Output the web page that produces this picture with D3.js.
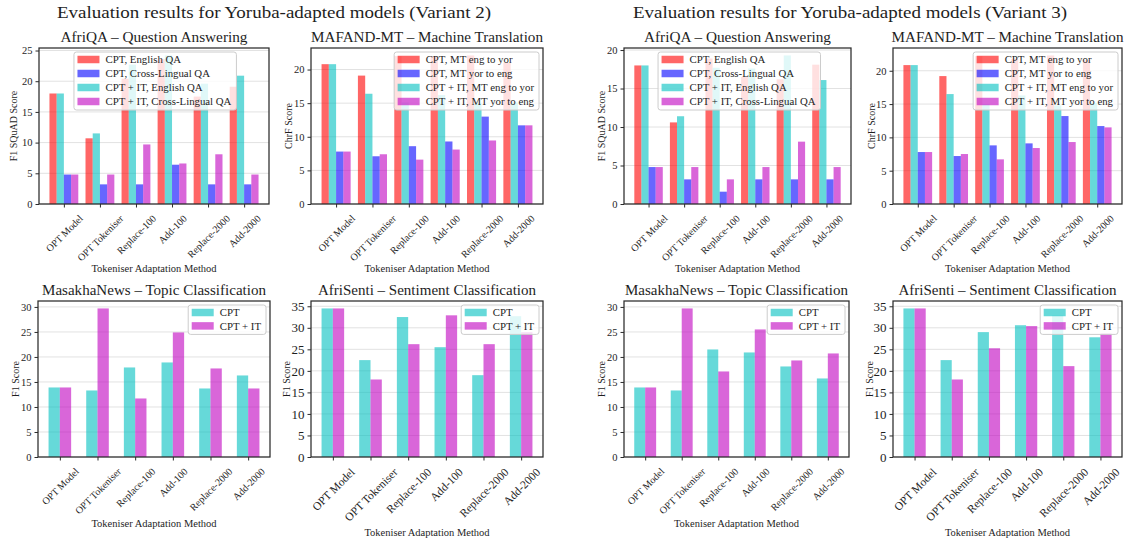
<!DOCTYPE html>
<html>
<head>
<meta charset="utf-8">
<script src="https://cdn.jsdelivr.net/npm/d3@7"></script>
<style>
  html, body { margin: 0; padding: 0; background: #fff; }
  svg { display: block; font-family: "Liberation Serif", "Times New Roman", serif; }
</style>
</head>
<body>
<svg id="chart" width="1133" height="541"></svg>
<script>
// ---- categories ----
const methods = ["OPT Model", "OPT Tokeniser", "Replace-100", "Add-100", "Replace-2000", "Add-2000"];

// ---- legend labels ----
const qaLabels = ["CPT, English QA", "CPT, Cross-Lingual QA", "CPT + IT, English QA", "CPT + IT, Cross-Lingual QA"];
const mtLabels = ["CPT, MT eng to yor", "CPT, MT yor to eng", "CPT + IT, MT eng to yor", "CPT + IT, MT yor to eng"];
const clsLabels = ["CPT", "CPT + IT"];

// ---- Variant 2 scores ----
const qaV2EngCpt = [18.0, 10.7, 20.4, 23.6, 17.5, 19.1];
const qaV2XlCpt  = [4.8, 3.2, 3.2, 6.4, 3.2, 3.2];
const qaV2EngIt  = [18.0, 11.5, 22.7, 24.2, 19.6, 20.9];
const qaV2XlIt   = [4.8, 4.8, 9.7, 6.6, 8.1, 4.8];

const mtV2EngYorCpt = [20.8, 19.1, 22.0, 22.0, 22.1, 21.0];
const mtV2YorEngCpt = [7.8, 7.1, 8.6, 9.3, 13.0, 11.7];
const mtV2EngYorIt  = [20.8, 16.4, 15.1, 16.2, 15.0, 15.1];
const mtV2YorEngIt  = [7.8, 7.4, 6.6, 8.1, 9.45, 11.7];

const newsV2Cpt = [13.9, 13.3, 17.9, 18.9, 13.7, 16.3];
const newsV2It  = [13.9, 29.7, 11.7, 24.9, 17.7, 13.7];
const sentiV2Cpt = [34.5, 22.5, 32.5, 25.5, 19.0, 32.7];
const sentiV2It  = [34.5, 18.0, 26.2, 32.9, 26.2, 29.0];

// ---- Variant 3 scores ----
const qaV3EngCpt = [18.0, 10.6, 18.9, 16.5, 16.2, 18.1];
const qaV3XlCpt  = [4.8, 3.2, 1.6, 3.2, 3.2, 3.2];
const qaV3EngIt  = [18.0, 11.4, 17.7, 17.6, 19.3, 16.1];
const qaV3XlIt   = [4.8, 4.8, 3.2, 4.8, 8.1, 4.8];

const mtV3EngYorCpt = [20.85, 19.2, 22.2, 21.8, 22.3, 21.6];
const mtV3YorEngCpt = [7.8, 7.2, 8.8, 9.1, 13.2, 11.7];
const mtV3EngYorIt  = [20.85, 16.5, 15.0, 16.3, 14.8, 15.2];
const mtV3YorEngIt  = [7.8, 7.5, 6.7, 8.4, 9.3, 11.5];

const newsV3Cpt = [13.9, 13.3, 21.5, 20.9, 18.1, 15.7];
const newsV3It  = [13.9, 29.7, 17.1, 25.5, 19.3, 20.7];
const sentiV3Cpt = [34.5, 22.5, 29.0, 30.6, 32.9, 27.8];
const sentiV3It  = [34.5, 18.0, 25.25, 30.4, 21.1, 28.7];

// ---- colours ----
const RED = "#ff0000", BLUE = "#0000ff", CYAN = "#00bfbf", MAGENTA = "#bf00bf";
const BAR_ALPHA = 0.6;

const svg = d3.select("#chart");

function four(labels, a, b, c, d) {
  return [
    { label: labels[0], values: a, color: RED },
    { label: labels[1], values: b, color: BLUE },
    { label: labels[2], values: c, color: CYAN },
    { label: labels[3], values: d, color: MAGENTA }
  ];
}
function two(a, b) {
  return [
    { label: clsLabels[0], values: a, color: CYAN },
    { label: clsLabels[1], values: b, color: MAGENTA }
  ];
}

// layout of each subplot: axes box [left, top, right, bottom]
const panels = [
  { box: [39, 48, 269, 204], title: "AfriQA – Question Answering", titleW: 187, ylabel: "F1 SQuAD Score", ylabOff: 26,
    series: four(qaLabels, qaV2EngCpt, qaV2XlCpt, qaV2EngIt, qaV2XlIt), legendLeft: 0.152, ytFs: 10.5, xtFs: 10, xlabFs: 10.5, xlabY: 271.5 },
  { box: [311, 48, 543, 204], title: "MAFAND-MT – Machine Translation", titleW: 232, ylabel: "ChrF Score", ylabOff: 23,
    series: four(mtLabels, mtV2EngYorCpt, mtV2YorEngCpt, mtV2EngYorIt, mtV2YorEngIt), legendLeft: null, ytFs: 10.5, xtFs: 10, xlabFs: 10.5, xlabY: 271.5 },
  { box: [624, 48, 851, 204], title: "AfriQA – Question Answering", titleW: 187, ylabel: "F1 SQuAD Score", ylabOff: 23,
    series: four(qaLabels, qaV3EngCpt, qaV3XlCpt, qaV3EngIt, qaV3XlIt), legendLeft: 0.15, ytFs: 10.5, xtFs: 10, xlabFs: 10.5, xlabY: 271.5 },
  { box: [893, 48, 1122, 204], title: "MAFAND-MT – Machine Translation", titleW: 232, ylabel: "ChrF Score", ylabOff: 22,
    series: four(mtLabels, mtV3EngYorCpt, mtV3YorEngCpt, mtV3EngYorIt, mtV3YorEngIt), legendLeft: null, ytFs: 10.5, xtFs: 10, xlabFs: 10.5, xlabY: 271.5 },
  { box: [38, 301, 270, 457], title: "MasakhaNews – Topic Classification", titleW: 224, ylabel: "F1 Score", ylabOff: 23,
    series: two(newsV2Cpt, newsV2It), legendLeft: null, ytFs: 10.5, xtFs: 10, xlabFs: 10.5, xlabY: 526.5 },
  { box: [311, 301, 543, 457], title: "AfriSenti – Sentiment Classification", titleW: 218, ylabel: "F1 Score", ylabOff: 25,
    series: two(sentiV2Cpt, sentiV2It), legendLeft: null, ytFs: 13, xtFs: 11.5, xlabFs: 10.5, xlabY: 535.5 },
  { box: [624, 301, 849, 457], title: "MasakhaNews – Topic Classification", titleW: 223, ylabel: "F1 Score", ylabOff: 23,
    series: two(newsV3Cpt, newsV3It), legendLeft: null, ytFs: 10.5, xtFs: 10, xlabFs: 10.5, xlabY: 526.5 },
  { box: [893, 301, 1122, 457], title: "AfriSenti – Sentiment Classification", titleW: 218, ylabel: "F1 Score", ylabOff: 24,
    series: two(sentiV3Cpt, sentiV3It), legendLeft: null, ytFs: 13, xtFs: 11.5, xlabFs: 10.5, xlabY: 535.5 }
];

const suptitles = [
  { text: "Evaluation results for Yoruba-adapted models (Variant 2)", cx: 274, w: 434 },
  { text: "Evaluation results for Yoruba-adapted models (Variant 3)", cx: 850, w: 434 }
];

const SPINE = "#2b2b2b";
const TEXT = "#1e1e1e";

function drawPanel(p) {
  const [x0, y0, x1, y1] = p.box;
  const g = svg.append("g");
  const nS = p.series.length;
  const w = nS === 4 ? 0.2 : 0.3;
  const half = nS * w / 2;
  const last = methods.length - 1;
  const m = 0.05 * (last + 2 * half);
  const x = d3.scaleLinear().domain([-half - m, last + half + m]).range([x0, x1]);
  const ymax = d3.max(p.series, s => d3.max(s.values)) * 1.05;
  const y = d3.scaleLinear().domain([0, ymax]).range([y1, y0]);
  const yTicks = d3.range(0, ymax + 1e-9, 5);

  // horizontal grid
  g.append("g").selectAll("line").data(yTicks).join("line")
    .attr("x1", x0).attr("x2", x1)
    .attr("y1", d => y(d)).attr("y2", d => y(d))
    .attr("stroke", "#e2e2e2").attr("stroke-width", 1);

  // bars: English / eng->yor pairs first, then the cross-lingual pair
  const drawOrder = nS === 4 ? [0, 2, 1, 3] : [0, 1];
  const bw = x(w) - x(0);
  drawOrder.forEach((si, k) => {
    const s = p.series[si];
    g.append("g").selectAll("rect").data(s.values).join("rect")
      .attr("x", (d, i) => x(i + (k - nS / 2) * w))
      .attr("width", bw)
      .attr("y", d => y(d))
      .attr("height", d => y(0) - y(d))
      .attr("fill", s.color)
      .attr("fill-opacity", BAR_ALPHA);
  });

  // y axis
  const ya = g.append("g").attr("transform", `translate(${x0},0)`)
    .call(d3.axisLeft(y).tickValues(yTicks).tickFormat(d3.format("d")).tickSize(3.5).tickPadding(3));
  ya.attr("font-family", null);
  ya.select(".domain").remove();
  ya.selectAll("line").attr("stroke", SPINE).attr("stroke-width", 1);
  ya.selectAll("text").attr("font-size", p.ytFs).attr("fill", TEXT);

  // x axis with rotated category labels
  const xa = g.append("g").attr("transform", `translate(0,${y1})`)
    .call(d3.axisBottom(x).tickValues(d3.range(methods.length)).tickFormat(i => methods[i]).tickSize(3.5).tickPadding(3));
  xa.attr("font-family", null);
  xa.select(".domain").remove();
  xa.selectAll("line").attr("stroke", SPINE).attr("stroke-width", 1);
  xa.selectAll("text")
    .attr("font-size", p.xtFs).attr("fill", TEXT)
    .attr("text-anchor", "middle").attr("y", null).attr("dy", "0.35em")
    .attr("transform", function () {
      const W = this.getComputedTextLength();
      const off = 10 + (W + 0.75 * p.xtFs) / (2 * Math.SQRT2);
      return `translate(0,${off}) rotate(-45)`;
    });

  // frame
  g.append("rect").attr("x", x0).attr("y", y0).attr("width", x1 - x0).attr("height", y1 - y0)
    .attr("fill", "none").attr("stroke", SPINE).attr("stroke-width", 1.25);

  // title
  g.append("text").attr("x", (x0 + x1) / 2).attr("y", y0 - 6.5)
    .attr("text-anchor", "middle").attr("font-size", 14).attr("fill", TEXT)
    .attr("textLength", p.titleW).attr("lengthAdjust", "spacingAndGlyphs")
    .text(p.title);

  // axis labels
  g.append("text").attr("x", (x0 + x1) / 2).attr("y", p.xlabY)
    .attr("text-anchor", "middle").attr("font-size", p.xlabFs).attr("fill", TEXT)
    .text("Tokeniser Adaptation Method");
  g.append("text")
    .attr("transform", `translate(${x0 - p.ylabOff},${(y0 + y1) / 2}) rotate(-90)`)
    .attr("text-anchor", "middle").attr("dy", "0.35em").attr("font-size", 10).attr("fill", TEXT)
    .text(p.ylabel);

  // legend
  const fs = 10.8;
  const rowH = nS === 4 ? 14 : 13.4;
  const lg = g.append("g");
  const box = lg.append("rect");
  const items = lg.selectAll("g").data(p.series).join("g");
  items.append("rect").attr("width", 22).attr("height", 7.5)
    .attr("fill", d => d.color).attr("fill-opacity", BAR_ALPHA);
  const labels = items.append("text").attr("font-size", fs).attr("fill", TEXT)
    .attr("dy", "0.35em").text(d => d.label);
  let maxW = 0;
  labels.each(function () { maxW = Math.max(maxW, this.getComputedTextLength()); });
  const boxW = 3.5 + 22 + 6 + maxW + 5;
  const boxH = 7.5 + (nS - 1) * rowH + 8.5;
  const bx = p.legendLeft !== null ? x0 + p.legendLeft * (x1 - x0) : x1 - 4 - boxW;
  const by = y0 + 4;
  box.attr("x", bx).attr("y", by).attr("width", boxW).attr("height", boxH)
    .attr("rx", 2.5).attr("fill", "#fff").attr("fill-opacity", 0.8)
    .attr("stroke", "#cccccc").attr("stroke-width", 1);
  items.attr("transform", (d, i) => `translate(${bx + 3.5},${by + 7.5 + i * rowH})`);
  items.select("rect").attr("y", -3.75);
  labels.attr("x", 28);
}

panels.forEach(drawPanel);

svg.selectAll("text.sup").data(suptitles).join("text")
  .attr("class", "sup")
  .attr("x", d => d.cx).attr("y", 17.5)
  .attr("text-anchor", "middle").attr("font-size", 17.5).attr("fill", TEXT)
  .attr("textLength", d => d.w).attr("lengthAdjust", "spacingAndGlyphs")
  .text(d => d.text);
</script>
</body>
</html>
